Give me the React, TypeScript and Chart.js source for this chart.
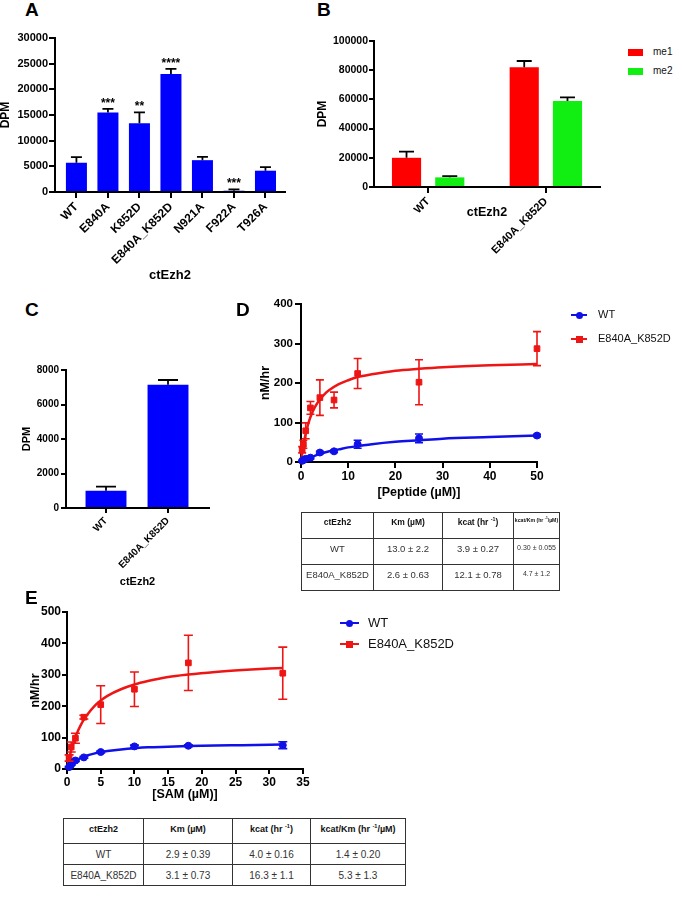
import React, { useEffect, useRef } from "react";
import { Chart, registerables } from "chart.js";

Chart.register(...registerables);

const FONT = "'Liberation Sans', Arial, Helvetica, sans-serif";
Chart.defaults.font.family = FONT;
Chart.defaults.color = "#000";

const BAR_BLUE = "#0000FF";
const BAR_RED = "#FF0000";
const BAR_GREEN = "#11EE11";
const LINE_BLUE = "#1010E8";
const LINE_RED = "#EE1515";

// ---------- Panel A ----------
const aCategories = ["WT", "E840A", "K852D", "E840A_K852D", "N921A", "F922A", "T926A"];
const aValues = [5700, 15500, 13400, 23000, 6200, 250, 4150];
const aErrors = [1100, 700, 2100, 1000, 650, 250, 700];
const aStars = ["", "***", "**", "****", "", "***", ""];
const aYTicks = [0, 5000, 10000, 15000, 20000, 25000, 30000];

// ---------- Panel B ----------
const bCategories = ["WT", "E840A_K852D"];
const bSeries = ["me1", "me2"];
const bMe1 = [20000, 82000];
const bMe1Err = [4200, 4300];
const bMe2 = [6600, 58900];
const bMe2Err = [900, 2500];
const bYTicks = [0, 20000, 40000, 60000, 80000, 100000];

// ---------- Panel C ----------
const cCategories = ["WT", "E840A_K852D"];
const cValues = [1000, 7150];
const cErrors = [240, 270];
const cYTicks = [0, 2000, 4000, 6000, 8000];

// ---------- Panel D ----------
const dSeries = ["WT", "E840A_K852D"];
const dConc = [0.25, 0.5, 1, 2, 4, 7, 12, 25, 50];
const dWt = [3, 5, 8, 11, 24, 27, 45, 60, 67];
const dWtErr = [1, 1, 2, 3, 3, 3, 10, 11, 3];
const dMut = [31, 45, 79, 137, 163, 157, 224, 202, 287];
const dMutErr = [8, 10, 20, 16, 45, 20, 38, 57, 43];
const dFitX = [0, 0.5, 1, 1.5, 2, 3, 4, 5, 6, 8, 10, 12, 15, 20, 25, 30, 40, 50];
const dFitWt = [0, 3, 6, 9, 11, 16, 20, 24, 27, 32, 37, 40, 45, 51, 55, 59, 63, 67];
const dFitMut = [0, 42, 72, 95, 114, 140, 158, 172, 182, 197, 207, 215, 222, 231, 236, 240, 245, 248];
const dXTicks = [0, 10, 20, 30, 40, 50];
const dYTicks = [0, 100, 200, 300, 400];
const dTableHeader = ["ctEzh2", "Km (µM)", "kcat (hr ^-1)", "kcat/Km (hr ^-1/µM)"];
const dTableRows = [
  ["WT", "13.0 ± 2.2", "3.9 ± 0.27", "0.30 ± 0.055"],
  ["E840A_K852D", "2.6 ± 0.63", "12.1 ± 0.78", "4.7 ± 1.2"],
];

// ---------- Panel E ----------
const eSeries = ["WT", "E840A_K852D"];
const eConc = [0.3125, 0.625, 1.25, 2.5, 5, 10, 18, 32];
const eWt = [6, 14, 27, 37, 54, 72, 74, 76];
const eWtErr = [2, 2, 3, 3, 3, 4, 3, 11];
const eMut = [35, 70, 98, 165, 205, 254, 338, 305];
const eMutErr = [10, 16, 16, 6, 60, 55, 88, 83];
const eFitX = [0, 0.5, 1, 1.5, 2, 2.5, 3, 4, 5, 6, 8, 10, 12, 15, 18, 22, 26, 32];
const eFitWt = [0, 12, 22, 29, 35, 39, 43, 49, 54, 57, 62, 66, 69, 71, 73, 75, 76, 78];
const eFitMut = [0, 49, 86, 115, 138, 157, 173, 199, 218, 233, 254, 269, 280, 293, 301, 309, 315, 322];
const eXTicks = [0, 5, 10, 15, 20, 25, 30, 35];
const eYTicks = [0, 100, 200, 300, 400, 500];
const eTableHeader = ["ctEzh2", "Km (µM)", "kcat (hr ^-1)", "kcat/Km (hr ^-1/µM)"];
const eTableRows = [
  ["WT", "2.9 ± 0.39", "4.0 ± 0.16", "1.4 ± 0.20"],
  ["E840A_K852D", "3.1 ± 0.73", "16.3 ± 1.1", "5.3 ± 1.3"],
];

// ---------- plugins ----------
const errorBarPlugin = {
  id: "errorBars",
  afterDatasetsDraw(chart: any) {
    const ctx = chart.ctx;
    chart.data.datasets.forEach((ds: any, di: number) => {
      if (!ds.errorBars) return;
      const meta = chart.getDatasetMeta(di);
      const yScale = chart.scales[meta.yAxisID];
      ctx.save();
      ctx.strokeStyle = ds.errorColor || "#000";
      ctx.lineWidth = ds.errorWidth || 1.5;
      meta.data.forEach((el: any, i: number) => {
        const raw = ds.data[i];
        const v = typeof raw === "number" ? raw : raw.y;
        const e = ds.errorBars[i];
        if (e == null || e <= 0) return;
        const x = el.x;
        const both = ds.errorMode === "both";
        const hi = yScale.getPixelForValue(v + e);
        const lo = both ? yScale.getPixelForValue(v - e) : el.y;
        const c = (ds.errorCap || 8) / 2;
        ctx.beginPath();
        ctx.moveTo(x, lo);
        ctx.lineTo(x, hi);
        ctx.moveTo(x - c, hi);
        ctx.lineTo(x + c, hi);
        if (both) {
          ctx.moveTo(x - c, lo);
          ctx.lineTo(x + c, lo);
        }
        ctx.stroke();
      });
      ctx.restore();
    });
  },
};

const starsPlugin = {
  id: "stars",
  afterDatasetsDraw(chart: any, _args: any, opts: any) {
    if (!opts || !opts.labels) return;
    const ctx = chart.ctx;
    const ds: any = chart.data.datasets[0];
    const meta = chart.getDatasetMeta(0);
    const yScale = chart.scales.y;
    ctx.save();
    ctx.fillStyle = "#000";
    ctx.font = `bold ${opts.size || 12}px ${FONT}`;
    ctx.textAlign = "center";
    ctx.textBaseline = "alphabetic";
    meta.data.forEach((el: any, i: number) => {
      const s = opts.labels[i];
      if (!s) return;
      const top = ds.data[i].y + (ds.errorBars ? ds.errorBars[i] : 0);
      ctx.fillText(s, el.x, yScale.getPixelForValue(top) - 2);
    });
    ctx.restore();
  },
};

// ---------- axis builders ----------
function yAxis(p: any) {
  return {
    type: "linear",
    position: "left",
    min: p.ticks[0],
    max: p.ticks[p.ticks.length - 1],
    afterBuildTicks: (s: any) => {
      s.ticks = p.ticks.map((v: number) => ({ value: v }));
    },
    afterFit: (s: any) => {
      s.width = p.width;
    },
    ticks: { color: "#000", font: { size: p.size, weight: "bold" }, padding: p.pad, callback: (v: any) => String(v) },
    grid: { drawOnChartArea: false, drawTicks: true, tickLength: p.tickLen, color: "#000", lineWidth: 2 },
    border: { display: true, color: "#000", width: 2 },
    title: {
      display: true,
      text: p.title,
      color: "#000",
      font: { size: p.titleSize, weight: "bold", lineHeight: 1 },
      padding: { top: p.titleX - p.titleSize / 2, bottom: 0 },
    },
  };
}

function xCatAxis(p: any) {
  return {
    type: "linear",
    position: "bottom",
    min: p.min,
    max: p.max,
    offset: false,
    afterBuildTicks: (s: any) => {
      s.ticks = p.cats.map((_: string, i: number) => ({ value: i }));
    },
    afterFit: (s: any) => {
      s.height = p.height;
    },
    ticks: {
      autoSkip: false,
      maxRotation: 45,
      minRotation: 45,
      color: "#000",
      font: { size: p.size, weight: "bold" },
      padding: p.pad,
      callback: (v: any) => (p.cats[v] !== undefined ? p.cats[v] : ""),
    },
    grid: { offset: false, drawOnChartArea: false, drawTicks: true, tickLength: p.tickLen, color: "#000", lineWidth: 2 },
    border: { display: true, color: "#000", width: 2 },
    title: {
      display: true,
      text: p.title,
      color: "#000",
      font: { size: p.titleSize, weight: "bold", lineHeight: 1 },
      padding: { top: 0, bottom: p.titleFromBottom - p.titleSize / 2 },
    },
  };
}

function xLinAxis(p: any) {
  return {
    type: "linear",
    position: "bottom",
    min: p.ticks[0],
    max: p.ticks[p.ticks.length - 1],
    afterBuildTicks: (s: any) => {
      s.ticks = p.ticks.map((v: number) => ({ value: v }));
    },
    afterFit: (s: any) => {
      s.height = p.height;
    },
    ticks: { maxRotation: 0, autoSkip: false, color: "#000", font: { size: p.size, weight: "bold" }, padding: p.pad, callback: (v: any) => String(v) },
    grid: { drawOnChartArea: false, drawTicks: true, tickLength: p.tickLen, color: "#000", lineWidth: 2 },
    border: { display: true, color: "#000", width: 2 },
    title: {
      display: true,
      text: p.title,
      color: "#000",
      font: { size: p.titleSize, weight: "bold", lineHeight: 1 },
      padding: { top: 0, bottom: p.titleFromBottom - p.titleSize / 2 },
    },
  };
}

function base(padding: any) {
  return {
    responsive: false,
    maintainAspectRatio: false,
    animation: false,
    devicePixelRatio: 1,
    events: [],
    layout: { padding },
  };
}

const pts = (xs: number[], ys: number[]) => xs.map((x, i) => ({ x, y: ys[i] }));

// ---------- chart configs ----------
function makeA(): any {
  return {
    type: "bar",
    data: {
      datasets: [
        {
          data: aCategories.map((_, i) => ({ x: i, y: aValues[i] })),
          backgroundColor: BAR_BLUE,
          borderWidth: 0,
          categoryPercentage: 1,
          barPercentage: 0.667,
          errorBars: aErrors,
          errorCap: 11,
          errorWidth: 1.8,
        },
      ],
    },
    options: {
      ...base({ left: 0, top: 18, right: 15, bottom: 0 }),
      plugins: { legend: { display: false }, tooltip: { enabled: false }, stars: { labels: aStars, size: 12 } },
      scales: {
        x: xCatAxis({ cats: aCategories, min: -0.68, max: 6.62, height: 98, size: 12, tickLen: 6, pad: 2, title: "ctEzh2", titleSize: 13, titleFromBottom: 15 }),
        y: yAxis({ ticks: aYTicks, width: 55, size: 11, pad: 1, tickLen: 6, title: "DPM", titleSize: 12, titleX: 6 }),
      },
    },
    plugins: [errorBarPlugin, starsPlugin],
  };
}

function makeB(): any {
  const common = { borderWidth: 0, categoryPercentage: 0.735, barPercentage: 0.674, errorCap: 15, errorWidth: 1.8 };
  return {
    type: "bar",
    data: {
      datasets: [
        { label: bSeries[0], data: bCategories.map((_, i) => ({ x: i, y: bMe1[i] })), backgroundColor: BAR_RED, errorBars: bMe1Err, ...common },
        { label: bSeries[1], data: bCategories.map((_, i) => ({ x: i, y: bMe2[i] })), backgroundColor: BAR_GREEN, errorBars: bMe2Err, ...common },
      ],
    },
    options: {
      ...base({ left: 0, top: 21, right: 10, bottom: 0 }),
      plugins: { legend: { display: false }, tooltip: { enabled: false } },
      scales: {
        x: xCatAxis({ cats: bCategories, min: -0.46, max: 1.46, height: 73, size: 11, tickLen: 6, pad: 2, title: "ctEzh2", titleSize: 12.5, titleFromBottom: 47 }),
        y: yAxis({ ticks: bYTicks, width: 64, size: 10.5, pad: 1, tickLen: 5, title: "DPM", titleSize: 12, titleX: 13 }),
      },
    },
    plugins: [errorBarPlugin],
  };
}

function makeC(): any {
  return {
    type: "bar",
    data: {
      datasets: [
        {
          data: cCategories.map((_, i) => ({ x: i, y: cValues[i] })),
          backgroundColor: BAR_BLUE,
          borderWidth: 0,
          categoryPercentage: 1,
          barPercentage: 0.66,
          errorBars: cErrors,
          errorCap: 20,
          errorWidth: 1.8,
        },
      ],
    },
    options: {
      ...base({ left: 0, top: 30, right: 21, bottom: 0 }),
      plugins: { legend: { display: false }, tooltip: { enabled: false } },
      scales: {
        x: xCatAxis({ cats: cCategories, min: -0.645, max: 1.661, height: 87, size: 10, tickLen: 5, pad: 2, title: "ctEzh2", titleSize: 11, titleFromBottom: 13 }),
        y: yAxis({ ticks: cYTicks, width: 66, size: 10, pad: 2, tickLen: 5, title: "DPM", titleSize: 11, titleX: 27 }),
      },
    },
    plugins: [errorBarPlugin],
  };
}

function kineticDatasets(conc: number[], wt: number[], wtErr: number[], mut: number[], mutErr: number[], fitX: number[], fitWt: number[], fitMut: number[], names: string[], cap: number) {
  return [
    { label: names[0] + " fit", data: pts(fitX, fitWt), showLine: true, pointRadius: 0, borderColor: LINE_BLUE, borderWidth: 2.5, cubicInterpolationMode: "monotone", clip: false, order: 3 },
    { label: names[1] + " fit", data: pts(fitX, fitMut), showLine: true, pointRadius: 0, borderColor: LINE_RED, borderWidth: 2.5, cubicInterpolationMode: "monotone", clip: false, order: 3 },
    {
      label: names[0],
      data: pts(conc, wt),
      showLine: false,
      pointStyle: "circle",
      pointRadius: 3.5,
      pointBackgroundColor: LINE_BLUE,
      pointBorderColor: LINE_BLUE,
      pointBorderWidth: 1,
      errorBars: wtErr,
      errorMode: "both",
      errorColor: LINE_BLUE,
      errorCap: cap,
      errorWidth: 1.6,
      clip: false,
      order: 1,
    },
    {
      label: names[1],
      data: pts(conc, mut),
      showLine: false,
      pointStyle: "rect",
      pointRadius: 4,
      pointBackgroundColor: LINE_RED,
      pointBorderColor: LINE_RED,
      pointBorderWidth: 1,
      errorBars: mutErr,
      errorMode: "both",
      errorColor: LINE_RED,
      errorCap: cap,
      errorWidth: 1.6,
      clip: false,
      order: 2,
    },
  ];
}

function makeD(): any {
  return {
    type: "scatter",
    data: { datasets: kineticDatasets(dConc, dWt, dWtErr, dMut, dMutErr, dFitX, dFitWt, dFitMut, dSeries, 8) },
    options: {
      ...base({ left: 0, top: 24, right: 13, bottom: 0 }),
      plugins: { legend: { display: false }, tooltip: { enabled: false } },
      scales: {
        x: xLinAxis({ ticks: dXTicks, height: 43, size: 12, tickLen: 6, pad: 1, title: "[Peptide (µM)]", titleSize: 12.5, titleFromBottom: 12 }),
        y: yAxis({ ticks: dYTicks, width: 81, size: 11.5, pad: 2, tickLen: 6, title: "nM/hr", titleSize: 12.5, titleX: 46 }),
      },
    },
    plugins: [errorBarPlugin],
  };
}

function makeE(): any {
  return {
    type: "scatter",
    data: { datasets: kineticDatasets(eConc, eWt, eWtErr, eMut, eMutErr, eFitX, eFitWt, eFitMut, eSeries, 9) },
    options: {
      ...base({ left: 0, top: 22, right: 17, bottom: 0 }),
      plugins: { legend: { display: false }, tooltip: { enabled: false } },
      scales: {
        x: xLinAxis({ ticks: eXTicks, height: 36, size: 12, tickLen: 5, pad: 1, title: "[SAM (µM)]", titleSize: 12.5, titleFromBottom: 10 }),
        y: yAxis({ ticks: eYTicks, width: 67, size: 12, pad: 1, tickLen: 5, title: "nM/hr", titleSize: 12.5, titleX: 35.5 }),
      },
    },
    plugins: [errorBarPlugin],
  };
}

// ---------- components ----------
function ChartBox({ left, top, width, height, make }: any) {
  const ref = useRef<HTMLCanvasElement | null>(null);
  useEffect(() => {
    if (!ref.current) return;
    const chart = new Chart(ref.current, make());
    return () => chart.destroy();
  }, []);
  return <canvas ref={ref} width={width} height={height} style={{ position: "absolute", left, top, width, height }} />;
}

function Letter({ text, left, top }: any) {
  return (
    <div style={{ position: "absolute", left, top, fontSize: 19, lineHeight: "19px", fontWeight: "bold", color: "#000" }}>{text}</div>
  );
}

function renderHeader(t: string) {
  const parts = t.split("^-1");
  return parts.map((p, i) => (
    <React.Fragment key={i}>
      {p}
      {i < parts.length - 1 ? <sup style={{ fontSize: "0.62em", lineHeight: 0, verticalAlign: "super" }}>-1</sup> : null}
    </React.Fragment>
  ));
}

function KTable({ left, top, widths, rowHeights, headSizes, bodySizes, header, rows }: any) {
  const total = widths.reduce((a: number, b: number) => a + b, 0);
  const cell = {
    border: "1px solid #333",
    padding: "5px 0 0 0",
    textAlign: "center" as const,
    verticalAlign: "top" as const,
    whiteSpace: "nowrap" as const,
    boxSizing: "border-box" as const,
    lineHeight: 1.15,
    overflow: "visible" as const,
  };
  return (
    <table style={{ position: "absolute", left, top, width: total, borderCollapse: "collapse", tableLayout: "fixed", fontFamily: FONT }}>
      <colgroup>
        {widths.map((w: number, i: number) => (
          <col key={i} style={{ width: w }} />
        ))}
      </colgroup>
      <tbody>
        <tr style={{ height: rowHeights[0] }}>
          {header.map((h: string, i: number) => (
            <td key={i} style={{ ...cell, fontSize: headSizes[i], fontWeight: "bold", color: "#111", height: rowHeights[0] }}>
              {renderHeader(h)}
            </td>
          ))}
        </tr>
        {rows.map((r: string[], ri: number) => (
          <tr key={ri} style={{ height: rowHeights[ri + 1] }}>
            {r.map((c, ci) => (
              <td key={ci} style={{ ...cell, fontSize: bodySizes[ci], color: "#333", height: rowHeights[ri + 1] }}>
                {c}
              </td>
            ))}
          </tr>
        ))}
      </tbody>
    </table>
  );
}

function LineLegend({ names, lineLeft, lineW, textLeft, ys, fontSize, colors, shapes }: any) {
  return (
    <>
      {names.map((n: string, i: number) => (
        <React.Fragment key={i}>
          <div style={{ position: "absolute", left: lineLeft, top: ys[i] - 1.25, width: lineW, height: 2.5, background: colors[i] }} />
          <div
            style={{
              position: "absolute",
              left: lineLeft + lineW / 2 - 3.5,
              top: ys[i] - 3.5,
              width: 7,
              height: 7,
              background: colors[i],
              borderRadius: shapes[i] === "circle" ? "50%" : 0,
            }}
          />
          <div style={{ position: "absolute", left: textLeft, top: ys[i] - fontSize * 0.6, fontSize, lineHeight: `${fontSize * 1.2}px`, color: "#111", whiteSpace: "nowrap" }}>
            {n}
          </div>
        </React.Fragment>
      ))}
    </>
  );
}

function SwatchLegend({ names, left, w, h, textLeft, ys, fontSize, colors }: any) {
  return (
    <>
      {names.map((n: string, i: number) => (
        <React.Fragment key={i}>
          <div style={{ position: "absolute", left, top: ys[i] - h / 2, width: w, height: h, background: colors[i] }} />
          <div style={{ position: "absolute", left: textLeft, top: ys[i] - fontSize * 0.6, fontSize, lineHeight: `${fontSize * 1.2}px`, color: "#111" }}>{n}</div>
        </React.Fragment>
      ))}
    </>
  );
}

export default function App() {
  return (
    <div style={{ position: "absolute", left: 0, top: 0, width: 683, height: 903, overflow: "hidden", background: "#fff", fontFamily: FONT }}>
      <ChartBox left={0} top={20} width={300} height={270} make={makeA} />
      <ChartBox left={310} top={20} width={300} height={240} make={makeB} />
      <ChartBox left={0} top={340} width={230} height={255} make={makeC} />
      <ChartBox left={220} top={280} width={330} height={225} make={makeD} />
      <ChartBox left={0} top={590} width={320} height={215} make={makeE} />

      <Letter text="A" left={25} top={0} />
      <Letter text="B" left={317} top={0} />
      <Letter text="C" left={25} top={300} />
      <Letter text="D" left={236} top={300} />
      <Letter text="E" left={25} top={588} />

      <SwatchLegend names={bSeries} left={628} w={15} h={7} textLeft={653} ys={[52, 71]} fontSize={10} colors={[BAR_RED, BAR_GREEN]} />
      <LineLegend names={dSeries} lineLeft={571} lineW={16} textLeft={598} ys={[315, 339]} fontSize={11} colors={[LINE_BLUE, LINE_RED]} shapes={["circle", "rect"]} />
      <LineLegend names={eSeries} lineLeft={340} lineW={19} textLeft={368} ys={[623, 644]} fontSize={13} colors={[LINE_BLUE, LINE_RED]} shapes={["circle", "rect"]} />

      <KTable
        left={301}
        top={512}
        widths={[72, 69, 71, 46]}
        rowHeights={[26, 26, 26]}
        headSizes={[8.5, 8.5, 8.5, 5.2]}
        bodySizes={[9.5, 9.5, 9.5, 7]}
        header={dTableHeader}
        rows={dTableRows}
      />
      <KTable
        left={63}
        top={818}
        widths={[80, 89, 78, 95]}
        rowHeights={[25, 21, 21]}
        headSizes={[9, 9, 9, 9]}
        bodySizes={[10, 10, 10, 10]}
        header={eTableHeader}
        rows={eTableRows}
      />
    </div>
  );
}
